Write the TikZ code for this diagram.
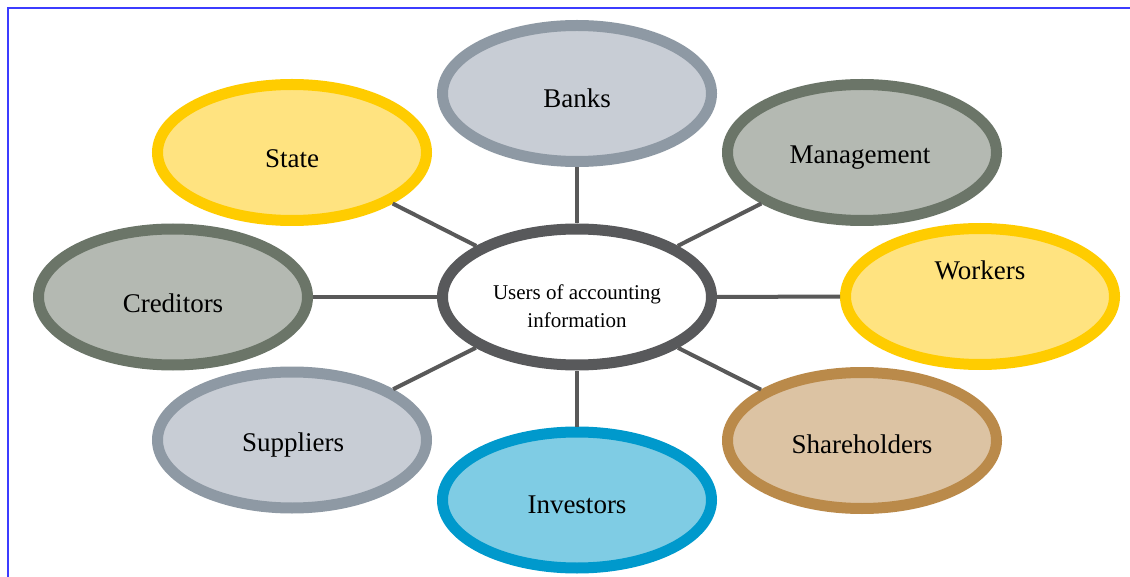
\documentclass[tikz,border=0pt]{standalone}
\usepackage{fontspec}
\setmainfont{Liberation Serif}
\usetikzlibrary{shapes.geometric}
\definecolor{frameblue}{HTML}{3C3CFF}
\definecolor{linkgray}{HTML}{595959}
\definecolor{hubgray}{HTML}{58595B}
\definecolor{bankfill}{HTML}{C8CDD5}
\definecolor{bankline}{HTML}{8E99A4}
\definecolor{yelfill}{HTML}{FFE380}
\definecolor{yelline}{HTML}{FFCC00}
\definecolor{sagefill}{HTML}{B4B9B2}
\definecolor{sageline}{HTML}{6B7568}
\definecolor{invfill}{HTML}{7FCCE4}
\definecolor{invline}{HTML}{0099CC}
\definecolor{shfill}{HTML}{DCC3A3}
\definecolor{shline}{HTML}{BA8A4A}
\tikzset{
  bubble/.style={ellipse, inner sep=0pt, minimum width=269pt, minimum height=136pt, line width=11pt},
  graybub/.style={bubble, draw=bankline, fill=bankfill},
  yelbub/.style={bubble, draw=yelline, fill=yelfill},
  sagebub/.style={bubble, draw=sageline, fill=sagefill},
  invbub/.style={bubble, draw=invline, fill=invfill},
  shbub/.style={bubble, draw=shline, fill=shfill},
  hubbub/.style={bubble, draw=hubgray, fill=white},
  lbl/.style={font=\fontsize{27}{32}\selectfont, text=black, inner sep=0pt},
  hublbl/.style={font=\fontsize{21}{28}\selectfont, text=black, align=center, inner sep=0pt},
  link/.style={draw=linkgray, line width=4pt}
}
\begin{document}
\begin{tikzpicture}[x=1pt,y=-1pt]
\useasboundingbox (0,0) rectangle (1130,577);
\fill[white] (0,0) rectangle (1130,577);
\coordinate (fa) at (8,577);
\coordinate (fb) at (8,8);
\coordinate (fc) at (1130,8);
\draw[frameblue, line width=2pt] (fa) -- (fb) -- (fc);

\node[hubbub] (hub) at (577,297) {};
\node[graybub] (banks) at (577,93.5) {};
\node[yelbub] (state) at (292,152.5) {};
\node[sagebub] (mgmt) at (862,152.5) {};
\node[sagebub] (cred) at (173,297) {};
\node[yelbub] (work) at (980,296.5) {};
\node[graybub] (supp) at (292,440) {};
\node[invbub] (inv) at (577,500) {};
\node[shbub] (share) at (862,440.5) {};

\foreach \n in {banks,state,mgmt,cred,work,supp,inv,share}
  \draw[link] (hub) -- (\n);

\node[hublbl] (hubT) at (577,306) {Users of accounting\\information};
\node[lbl] (banksT) at (577,98) {Banks};
\node[lbl] (stateT) at (292,159) {State};
\node[lbl] (mgmtT) at (860,158) {Management};
\node[lbl] (credT) at (173,303) {Creditors};
\node[lbl] (workT) at (980,270) {Workers};
\node[lbl] (suppT) at (293,445) {Suppliers};
\node[lbl] (invT) at (577,505) {Investors};
\node[lbl] (shareT) at (862,444) {Shareholders};
\end{tikzpicture}
\end{document}
